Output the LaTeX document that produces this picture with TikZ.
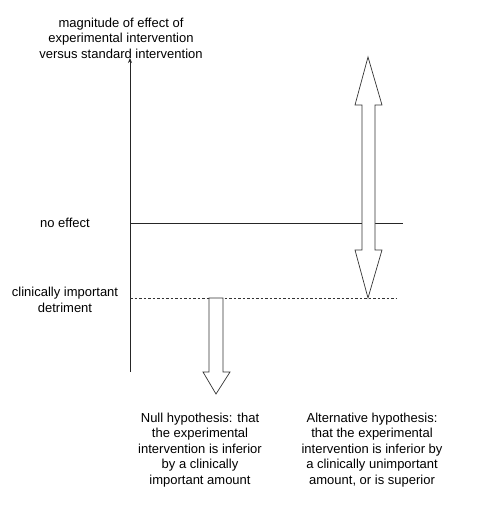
\documentclass[tikz,border=0pt]{standalone}
\usepackage{fontspec}
\setmainfont{Liberation Sans}
\usetikzlibrary{arrows.meta}
\begin{document}
\begin{tikzpicture}[x=1pt,y=-1pt,
  lbl/.style={align=center,inner sep=0pt,font=\fontsize{13}{15.5}\selectfont},
  axisline/.style={draw=black!85,line width=0.9pt},
  fatarrow/.style={draw=black!80,line width=0.7pt,fill=white}]
\useasboundingbox (0,0) rectangle (476,510);
% axis
\coordinate (axbot) at (130,372);
\coordinate (axtop) at (130,58);
\draw[axisline,-{Stealth[length=5pt,width=4pt]}] (axbot) -- (axtop);
\node[lbl] (ylab) at (121,38) {magnitude of effect of\\experimental intervention\\versus standard intervention};
% no effect line
\coordinate (ne0) at (130,223);
\coordinate (ne1) at (403,223);
\draw[axisline] (ne0) -- (ne1);
\node[lbl] (nelab) at (65,223) {no effect};
% clinically important detriment
\coordinate (cd0) at (130,298);
\coordinate (cd1) at (396,298);
\draw[draw=black!80,line width=0.6pt,dash pattern=on 2.5pt off 2pt] (cd0) -- (cd1);
\node[lbl] (cdlab) at (65,300) {clinically important\\detriment};
% null arrow
\draw[fatarrow] (209,298) -- (223,298) -- (223,372) -- (230,372) -- (216,394) -- (203,372) -- (209,372) -- cycle;
% alternative double arrow
\draw[fatarrow] (368,57) -- (382,105) -- (375,105) -- (375,250) -- (382,250) -- (368,298) -- (355,250) -- (362,250) -- (362,105) -- (355,105) -- cycle;
% hypotheses
\node[lbl] (nullh) at (200,450) {Null hypothesis: that\\the experimental\\intervention is inferior\\by a clinically\\important amount};
\node[lbl] (alth) at (372,450) {Alternative hypothesis:\\that the experimental\\intervention is inferior by\\a clinically unimportant\\amount, or is superior};
\end{tikzpicture}
\end{document}
